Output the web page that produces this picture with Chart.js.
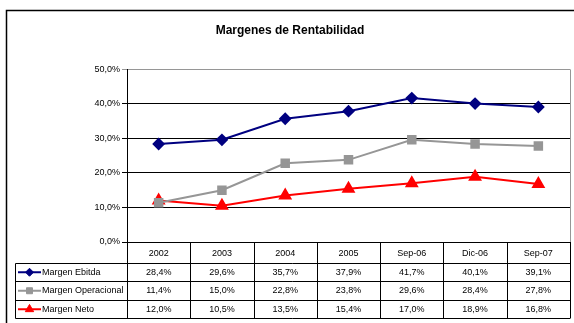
<!DOCTYPE html>
<html>
<head>
<meta charset="utf-8">
<title>Margenes de Rentabilidad</title>
<script src="https://cdn.jsdelivr.net/npm/chart.js@4.4.0/dist/chart.umd.min.js"></script>
<style>
  html, body { margin: 0; padding: 0; background: #fff; }
  canvas { display: block; }
</style>
</head>
<body>
<canvas id="myChart" width="574" height="323"></canvas>
<script>
var periodos = ["2002", "2003", "2004", "2005", "Sep-06", "Dic-06", "Sep-07"];
var margenEbitda = [28.4, 29.6, 35.7, 37.9, 41.7, 40.1, 39.1];
var margenOperacional = [11.4, 15.0, 22.8, 23.8, 29.6, 28.4, 27.8];
var margenNeto = [12.0, 10.5, 13.5, 15.4, 17.0, 18.9, 16.8];
var nombres = ["Margen Ebitda", "Margen Operacional", "Margen Neto"];
var colores = ["#000080", "#969696", "#ff0000"];
var ejeMin = 0, ejeMax = 50, ejePaso = 10;

var fuente = "Arial, 'Liberation Sans', sans-serif";

function pct(v) {
    return v.toFixed(1).replace(".", ",") + "%";
}

// fondo, marco exterior y tabla de datos bajo el eje
const tablaDatos = {
    id: "tablaDatos",
    beforeDraw(chart) {
        const ctx = chart.ctx;
        ctx.save();
        ctx.fillStyle = "#fff";
        ctx.fillRect(0, 0, chart.width, chart.height);
        ctx.strokeStyle = "#000";
        ctx.lineWidth = 1.5;
        ctx.beginPath();
        ctx.moveTo(6.5, chart.height);
        ctx.lineTo(6.5, 10.5);
        ctx.lineTo(chart.width, 10.5);
        ctx.stroke();
        ctx.restore();
    },
    afterDraw(chart) {
        const ctx = chart.ctx;
        const a = chart.chartArea;
        const x = chart.scales.x;
        const colW = x.getPixelForValue(1) - x.getPixelForValue(0);
        const filas = [a.bottom, 262.5, 281, 299.5, 318];
        const izq = 15.5;
        const series = chart.data.datasets;

        ctx.save();
        // borde derecho del área de trazado
        ctx.strokeStyle = "#969696";
        ctx.lineWidth = 1;
        ctx.beginPath();
        ctx.moveTo(Math.round(a.right) + 0.5, a.top);
        ctx.lineTo(Math.round(a.right) + 0.5, a.bottom);
        ctx.stroke();

        ctx.strokeStyle = "#000";
        ctx.beginPath();
        // líneas horizontales
        for (let i = 1; i < filas.length; i++) {
            ctx.moveTo(izq, Math.round(filas[i]) + 0.5);
            ctx.lineTo(a.right, Math.round(filas[i]) + 0.5);
        }
        // líneas verticales de columnas
        for (let i = 0; i <= periodos.length; i++) {
            const px = Math.round(x.getPixelForValue(i) - colW / 2) + 0.5;
            ctx.moveTo(px, filas[0]);
            ctx.lineTo(px, Math.round(filas[4]) + 0.5);
        }
        ctx.moveTo(izq, Math.round(filas[1]) + 0.5);
        ctx.lineTo(izq, Math.round(filas[4]) + 0.5);
        ctx.stroke();

        ctx.fillStyle = "#000";
        ctx.font = "9px " + fuente;
        ctx.textAlign = "center";
        ctx.textBaseline = "middle";
        periodos.forEach((p, i) => {
            ctx.fillText(p, x.getPixelForValue(i), (filas[0] + filas[1]) / 2 + 1);
        });

        series.forEach((ds, r) => {
            const cy = (filas[r + 1] + filas[r + 2]) / 2 + 0.5;
            ctx.fillStyle = "#000";
            ctx.textAlign = "center";
            ds.data.forEach((v, i) => {
                ctx.fillText(pct(v), x.getPixelForValue(i), cy);
            });
            // clave de la serie
            ctx.strokeStyle = ds.borderColor;
            ctx.lineWidth = 2;
            ctx.beginPath();
            ctx.moveTo(18, cy);
            ctx.lineTo(41, cy);
            ctx.stroke();
            ctx.fillStyle = ds.pointBackgroundColor;
            ctx.strokeStyle = ds.pointBorderColor;
            ctx.lineWidth = 1;
            Chart.helpers.drawPoint(ctx, {
                pointStyle: ds.pointStyle,
                radius: ds.pointRadius * 0.8,
                rotation: 0,
                borderWidth: 1
            }, 29.5, cy);
            ctx.fillStyle = "#000";
            ctx.textAlign = "left";
            ctx.fillText(ds.label, 42, cy);
        });
        ctx.restore();
    }
};

const chart = new Chart("myChart", {
    type: "line",
    data: {
        labels: periodos,
        datasets: [{
            label: nombres[0],
            data: margenEbitda,
            borderColor: colores[0],
            backgroundColor: colores[0],
            pointBackgroundColor: colores[0],
            pointBorderColor: colores[0],
            pointStyle: "rectRot",
            pointRadius: 5,
            borderWidth: 2
        }, {
            label: nombres[1],
            data: margenOperacional,
            borderColor: colores[1],
            backgroundColor: colores[1],
            pointBackgroundColor: colores[1],
            pointBorderColor: colores[1],
            pointStyle: "rect",
            pointRadius: 5.3,
            borderWidth: 2
        }, {
            label: nombres[2],
            data: margenNeto,
            borderColor: colores[2],
            backgroundColor: colores[2],
            pointBackgroundColor: colores[2],
            pointBorderColor: colores[2],
            pointStyle: "triangle",
            pointRadius: 6,
            borderWidth: 2
        }]
    },
    options: {
        responsive: false,
        animation: false,
        layout: {
            autoPadding: false,
            padding: { top: 0, left: 10, right: 4, bottom: 81 }
        },
        plugins: {
            legend: { display: false },
            tooltip: { enabled: false },
            title: {
                display: true,
                text: "Margenes de Rentabilidad",
                color: "#000",
                font: { family: fuente, size: 12, weight: "bold" },
                padding: { top: 23, bottom: 32 }
            }
        },
        scales: {
            x: {
                display: false,
                offset: true
            },
            y: {
                min: ejeMin,
                max: ejeMax,
                afterFit(scale) { scale.width = 117; },
                ticks: {
                    stepSize: ejePaso,
                    color: "#000",
                    padding: 2,
                    font: { family: fuente, size: 9 },
                    callback: v => pct(v)
                },
                grid: {
                    color: c => (c.tick && c.tick.value === ejeMax) ? "#969696" : "#000",
                    tickLength: 5,
                    lineWidth: 1
                },
                border: { color: "#000", width: 1 }
            }
        }
    },
    plugins: [tablaDatos]
});
</script>
</body>
</html>
